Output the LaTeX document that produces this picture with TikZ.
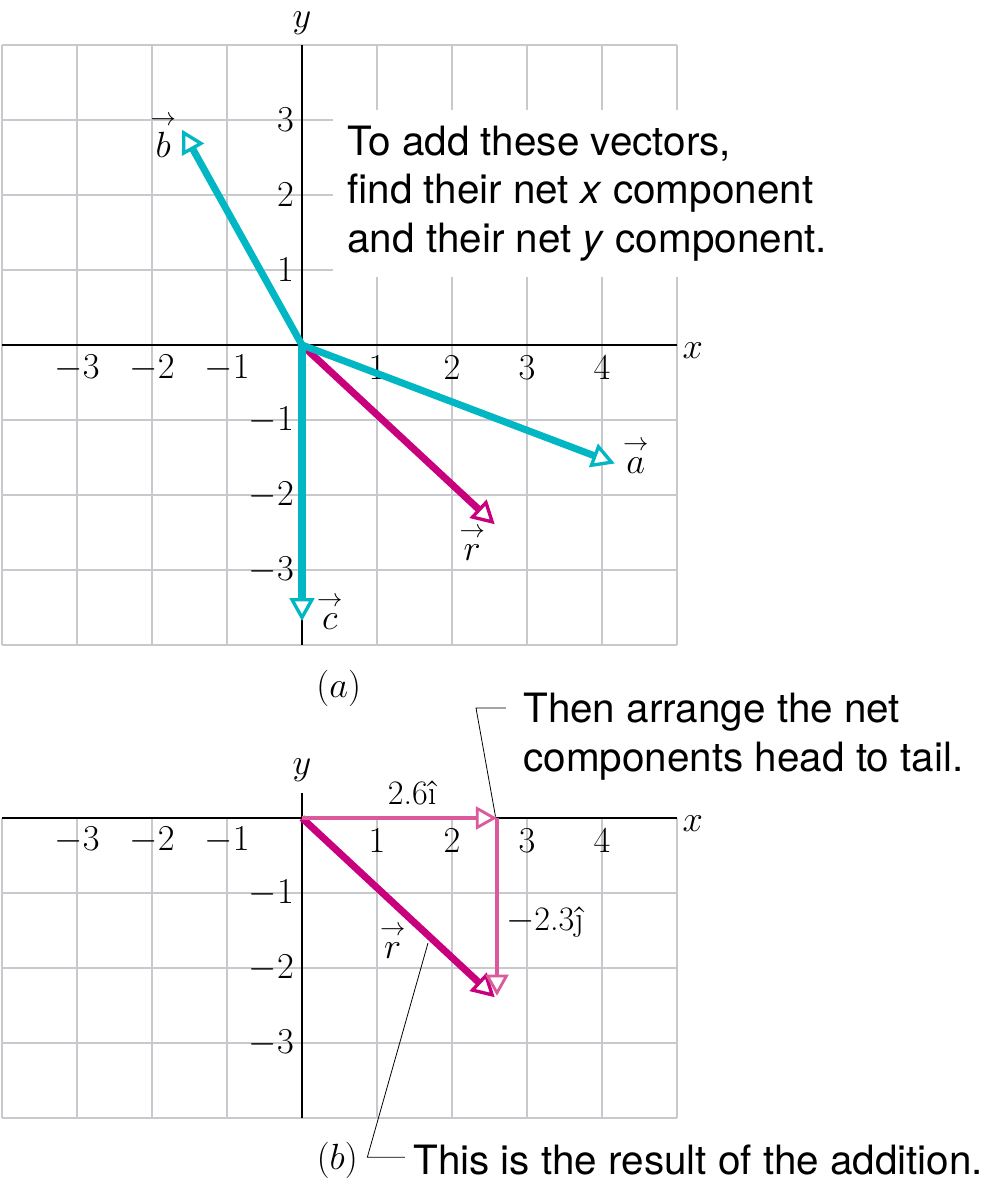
\documentclass[tikz,border=0pt]{standalone}
\usepackage{amsmath}
\usepackage{fontspec}
\setsansfont{TeX Gyre Heros}
\usetikzlibrary{arrows.meta, calc}
\definecolor{vcyan}{HTML}{00B7C3}
\definecolor{vres}{HTML}{C8007D}
\definecolor{vcomp}{HTML}{DA5A9C}
\definecolor{gridgray}{HTML}{C8C9CC}
\newcommand{\va}[1]{\overset{\rightarrow}{#1}}

\begin{document}
\begin{tikzpicture}[
    x=1.5cm, y=1.5cm,
    gridline/.style={gridgray, line width=1.1pt, step=1.5cm},
    axis/.style={black, line width=0.8pt},
    lbl/.style={font=\fontsize{19.5}{23}\selectfont, inner sep=1pt},
    note/.style={font=\sffamily\fontsize{23}{27.5}\selectfont, align=left, inner sep=2pt},
    vec/.style={line width=4pt, -{Triangle[length=13pt, width=14pt, fill=white, line width=1.9pt]}},
    comp/.style={vcomp, line width=2.6pt, -{Triangle[length=12pt, width=13pt, fill=white, line width=1.6pt]}},
    callout/.style={black, line width=0.45pt}
]
\useasboundingbox (-4.0267,-11.347) rectangle (9.2,4.6);

% (a) the three vectors
\draw[gridline] (-4,-4) grid (5,4);
\draw[axis] (-4,0) -- (5,0);
\draw[axis] (0,-4) -- (0,4);
\node[lbl] (xa) at (5.21,-0.07) {$x$};
\node[lbl] (ya) at (0,4.29) {$y$};
\foreach \xv in {-3,-2,-1,1,2,3,4}
    \node[lbl] (xt\xv) at (\xv,-0.31) {$\xv$};
\foreach \yv in {-3,-2,-1,1,2,3}
    \node[lbl, anchor=east] (yt\yv) at (-0.08,\yv) {$\yv$};

\node[note, fill=white, anchor=north west, inner xsep=8pt, inner ysep=9pt] (addnote) at (0.413,3.133)
    {To add these vectors,\\find their net \textit{x} component\\and their net \textit{y} component.};

\coordinate (oa) at (0,0);
\coordinate (ta) at (4.17,-1.58);
\coordinate (tb) at (-1.6,2.87);
\coordinate (tc) at (0,-3.68);
\coordinate (tr) at (2.57,-2.39);
\draw[vec, vres] (oa) -- (tr);
\draw[vec, vcyan] (oa) -- (ta);
\draw[vec, vcyan] (oa) -- (tb);
\draw[vec, vcyan] (oa) -- (tc);
\node[lbl] (la) at (4.45,-1.47) {$\va{a}$};
\node[lbl] (lb) at (-1.85,2.8) {$\va{b}$};
\node[lbl] (lc) at (0.37,-3.55) {$\va{c}$};
\node[lbl] (lr) at (2.27,-2.64) {$\va{r}$};
\node[lbl] (capa) at (0.49,-4.573) {$(a)$};

% (b) components head to tail
\begin{scope}[shift={(0,-6.307)}]
\draw[gridline] (-4,-4) grid (5,0);
\draw[axis] (-4,0) -- (5,0);
\draw[axis] (0,-4) -- (0,0.33);
\node[lbl] (xb) at (5.21,-0.07) {$x$};
\node[lbl] (yb) at (0,0.64) {$y$};
\foreach \xv in {-3,-2,-1,1,2,3,4}
    \node[lbl] (xs\xv) at (\xv,-0.3) {$\xv$};
\foreach \yv in {-3,-2,-1}
    \node[lbl, anchor=east] (ys\yv) at (-0.08,\yv) {$\yv$};

\coordinate (ob) at (0,0);
\coordinate (ti) at (2.6,0);
\coordinate (tj) at (2.6,-2.37);
\coordinate (trb) at (2.57,-2.39);
\draw[vec, vres] (ob) -- (trb);
\draw[comp] (ob) -- (ti);
\draw[comp] (ti) -- (tj);
\node[lbl] (li) at (1.47,0.33) {2.6\^{\i}};
\node[lbl] (lj) at (3.24,-1.39) {$-$2.3\^{\j}};
\node[lbl] (lrb) at (1.21,-1.63) {$\va{r}$};

% callouts
\coordinate (p1) at (2.58,0.02);
\coordinate (k1) at (2.32,1.467);
\coordinate (e1) at (2.72,1.467);
\draw[callout] (p1) -- (k1) -- (e1);
\node[note, anchor=north west] (headnote) at (2.9,1.714)
    {Then arrange the net\\components head to tail.};

\coordinate (p2) at (1.68,-1.667);
\coordinate (k2) at (0.871,-4.523);
\coordinate (e2) at (1.373,-4.523);
\draw[callout] (p2) -- (k2) -- (e2);
\node[note, anchor=west] (resnote) at (1.433,-4.56) {This is the result of the addition.};
\node[lbl] (capb) at (0.47,-4.56) {$(b)$};
\end{scope}
\end{tikzpicture}
\end{document}
